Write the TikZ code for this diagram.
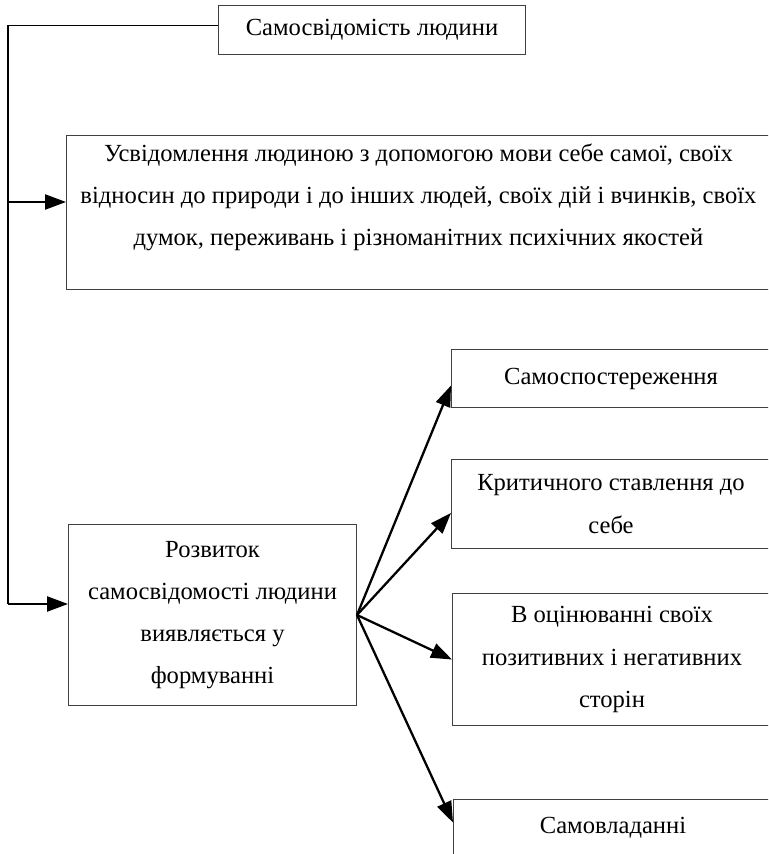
\documentclass[tikz,border=0pt]{standalone}
\usepackage{fontspec}
\setmainfont{Liberation Serif}
\usetikzlibrary{arrows.meta}

\tikzset{
    blk/.style={rectangle, draw=black!75, line width=0.6pt, anchor=north west, align=center, inner sep=0pt},
    arr/.style={-{Triangle[length=0.42cm, width=0.3cm]}, line width=1.3pt},
}

\begin{document}
\begin{tikzpicture}[x=0.02cm, y=-0.02cm, font=\fontsize{14pt}{24pt}\selectfont]
    \useasboundingbox (0,0) rectangle (768,854);
    \clip (0,0) rectangle (768,854);

    \node [blk, minimum width=6.14cm, minimum height=0.98cm] (self) at (218,5) {Самосвідомість людини};
    \node [blk, minimum width=14.08cm, minimum height=3.08cm] (usv) at (66,135) {};
    \node [align=center] (usvtxt) at ([yshift=0.3cm]usv.center) {Усвідомлення людиною з допомогою мови себе самої, своїх\\відносин до природи і до інших людей, своїх дій і вчинків, своїх\\думок, переживань і різноманітних психічних якостей};
    \node [blk, minimum width=5.76cm, minimum height=3.62cm] (dev) at (68,524) {Розвиток\\самосвідомості людини\\виявляється у\\формуванні};

    \node [blk, minimum width=6.38cm, minimum height=1.16cm] (obs) at (451,349) {Самоспостереження};
    \node [blk, minimum width=6.38cm, minimum height=1.78cm] (crit) at (451,459) {Критичного ставлення до\\себе};
    \node [blk, minimum width=6.38cm, minimum height=2.64cm] (eval) at (452,593) {В оцінюванні своїх\\позитивних і негативних\\сторін};
    \node [blk, minimum width=6.38cm, minimum height=1.12cm] (ctrl) at (453,799) {Самовладанні};

    \coordinate (j1) at (8,202);
    \coordinate (j2) at (8,604);
    \draw [line width=0.6pt] ([yshift=0.09cm]self.west) -| (j2);
    \draw [arr] (j1) -- (j1 -| usv.west);
    \draw [arr] (j2) -- (j2 -| dev.west);

    \draw [arr] (dev.east) -- ([yshift=-0.14cm]obs.west);
    \draw [arr] (dev.east) -- ([yshift=-0.18cm]crit.west);
    \draw [arr] (dev.east) -- (eval.west);
    \draw [arr] (dev.east) -- ([yshift=0.1cm]ctrl.west);
\end{tikzpicture}
\end{document}
